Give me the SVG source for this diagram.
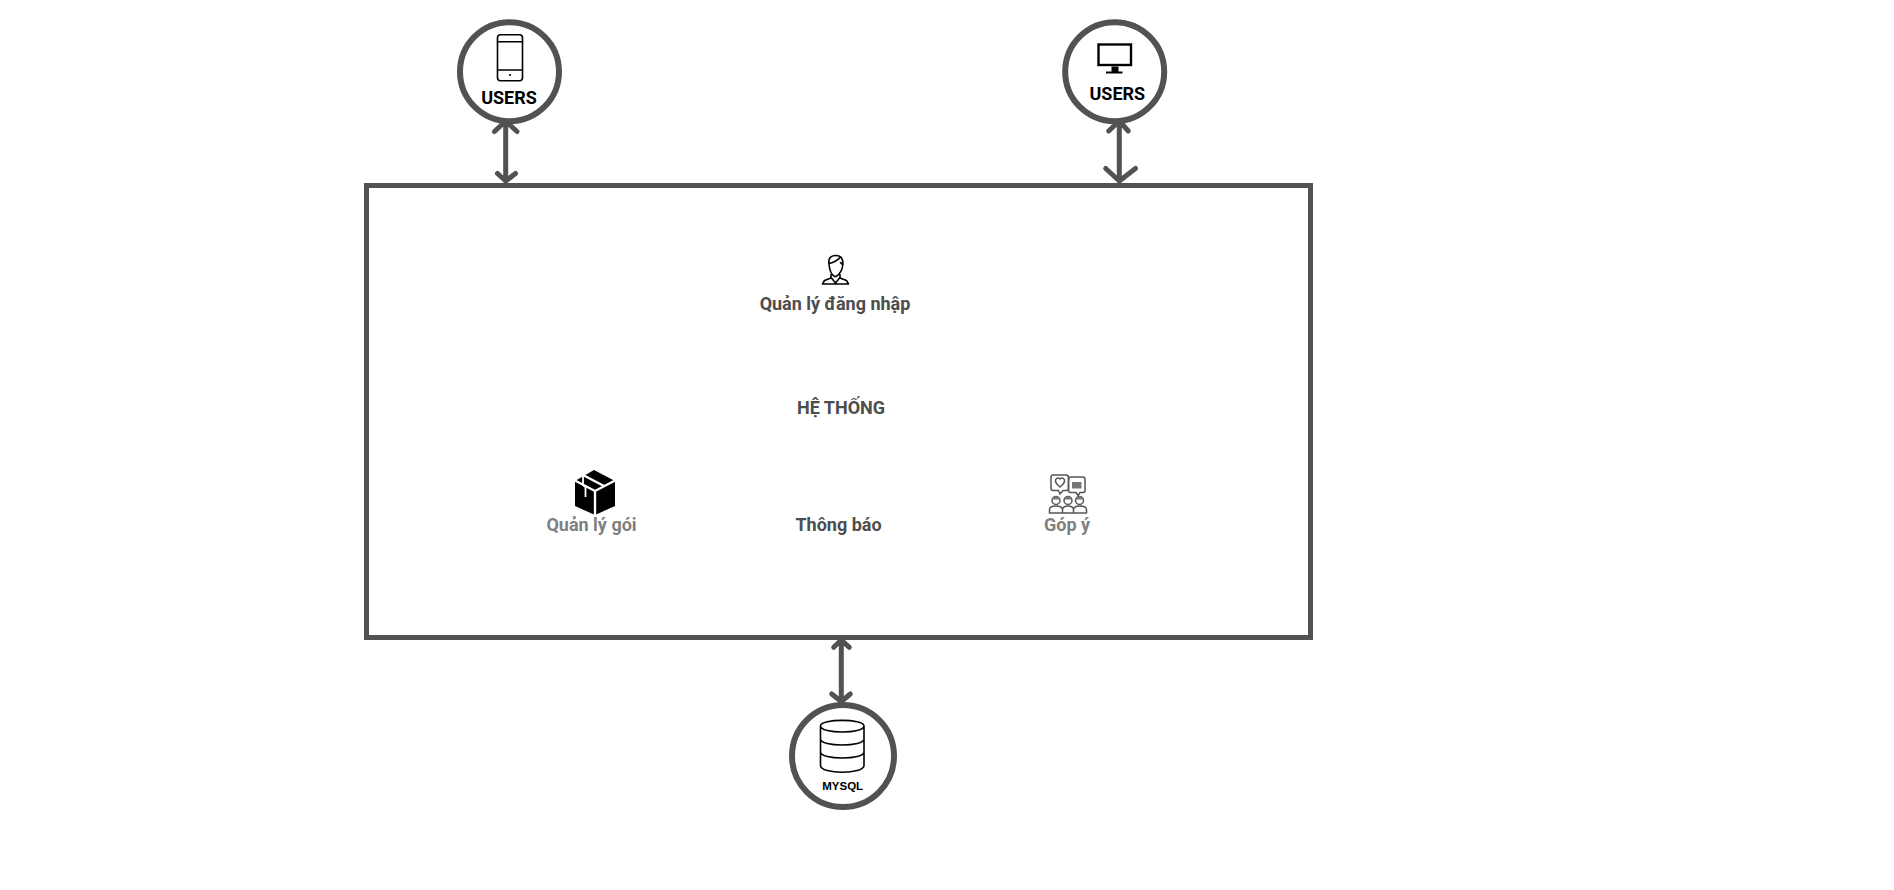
<svg xmlns="http://www.w3.org/2000/svg" width="1894" height="890" viewBox="0 0 1894 890">
<style>
.shape{fill:#fff;stroke:#525252;stroke-width:5}
.ring{fill:#fff;stroke:#525252;stroke-width:6}
.conn{fill:none;stroke:#525252;stroke-width:5;stroke-linecap:round;stroke-linejoin:round}
text{font-family:Roboto,"Liberation Sans",sans-serif;font-weight:700;text-anchor:middle;font-size:18px}
.dark{fill:#4d4d4d}
.grey{fill:#7f7f7f}
.blk{fill:#000}
.ic{fill:none;stroke:#000;stroke-width:1.6;stroke-linejoin:round;stroke-linecap:round}
.icg{fill:none;stroke:#555;stroke-width:1.5;stroke-linejoin:round;stroke-linecap:round}
</style>
<rect width="1894" height="890" fill="#fff"/>
<g id="system">
<rect class="shape" x="366.500" y="185.500" width="944" height="452"/>
<text class="dark" x="841" y="414">HỆ THỐNG</text>
</g>
<g id="connectors">
<path class="conn" d="M505.700 125V181M494.500 131.500L505.700 121L517 131.500M497.500 173.500L505.700 181L515.500 173.500"/>
<path class="conn" d="M1119.300 125V181M1108.700 131L1119.300 121L1128.300 131M1105.700 168.500L1119.300 181L1135.500 168.500"/>
<path class="conn" d="M841.300 642V700M833.700 647.300L841.300 640L849.300 647.300M831.700 694L841.300 701.500L850.300 694"/>
</g>
<g id="users-mobile">
<circle class="ring" cx="509.500" cy="71.700" r="49.500"/>
<rect class="ic" x="497.500" y="34.800" width="25" height="46" rx="3"/>
<path class="ic" d="M497.500 41.700H522.500M497.500 70H522.500"/>
<circle cx="510" cy="75" r="1.100" fill="#000"/>
<text class="blk" x="509" y="103.500">USERS</text>
</g>
<g id="users-desktop">
<circle class="ring" cx="1114.700" cy="71.700" r="49.500"/>
<rect x="1098.500" y="44.500" width="32.500" height="20.500" fill="#fff" stroke="#000" stroke-width="2.400"/>
<path d="M1111.500 66.500H1118.500V71.500H1122.500V73.500H1106V71.500H1111.500Z" fill="#000"/>
<text class="blk" x="1117.300" y="99.500">USERS</text>
</g>
<g id="mysql">
<circle class="ring" cx="843" cy="756" r="51"/>
<path class="ic" d="M820.500 726C820.500 718.500 864 718.500 864 726V765.500C864 774.500 820.500 774.500 820.500 765.500ZM820.500 726C820.500 734 864 734 864 726M820.500 739C820.500 747 864 747 864 739M820.500 752C820.500 760 864 760 864 752"/>
<text class="blk" x="842.700" y="790" style="font-family:'Liberation Sans',Arial,sans-serif;font-size:11.500px">MYSQL</text>
</g>
<g id="login">
<path class="ic" d="M829 264C828 257 832 255.500 836 255.500C841 255.500 843.500 259 842.800 265C842.300 270 840 274 836 276.500H834.500C831 274.500 829.500 270 829 264ZM829 263.500C833 263 838 260 840 257.500M840.500 262.500L842.800 265M831 274.500L831 278L824.500 280.500L822.500 284H848.500L846.500 280.500L840 278L840 274.500M831.500 278L835.500 283L839.500 278"/>
<text class="dark" x="835" y="310">Quản lý đăng nhập</text>
</g>
<g id="package">
<path fill="#000" d="M594 470L575 481V506L595 515L615 506V481Z"/>
<path d="M574 480L595 491L616 480M595 491V516M583 475L604 486" stroke="#fff" stroke-width="2.400" fill="none"/>
<path d="M583 475V485L585.500 487V497" stroke="#fff" stroke-width="1.800" fill="none"/>
<text class="grey" x="591.500" y="531">Quản lý gói</text>
</g>
<g id="notify">
<text class="dark" x="838.500" y="530.500">Thông báo</text>
</g>
<g id="feedback">
<path class="icg" d="M1053 475H1066Q1068.500 475 1068.500 477.500V488.500Q1068.500 490.500 1066 490.500H1063L1060 494L1058.500 490.500H1053Q1051 490.500 1051 488.500V477.500Q1051 475 1053 475Z"/>
<path class="icg" d="M1060 479C1058 477 1055 478.500 1055.500 481.500C1056 484 1059 486 1060 487C1061 486 1064 484 1064.500 481.500C1065 478.500 1062 477 1060 479Z"/>
<path class="icg" fill="#fff" d="M1071 477H1083Q1085 477 1085 479.500V490.500Q1085 492.500 1083 492.500H1080L1078 495.500L1076 492.500H1071Q1068.500 492.500 1068.500 490.500V479.500Q1068.500 477 1071 477Z"/>
<path d="M1072 482H1081.500V488.500H1072Z" fill="#777"/>
<circle class="icg" cx="1056" cy="500.500" r="4"/><circle class="icg" cx="1068" cy="500.500" r="4"/><circle class="icg" cx="1079.500" cy="500.500" r="4"/>
<path d="M1052.500 499.500H1059.500V497.500L1056 496L1052.500 497.500ZM1064.500 499.500H1071.500V497.500L1068 496L1064.500 497.500ZM1076 499.500H1083V497.500L1079.500 496L1076 497.500Z" fill="#777"/>
<path class="icg" d="M1049.500 513V509.500C1049.500 506.500 1053 506 1056 506C1059 506 1062 506.500 1062.500 509.500C1063 506.500 1065 506 1068 506C1071 506 1073 506.500 1073.500 509.500C1074 506.500 1076.500 506 1079.500 506C1083 506 1086.500 506.500 1086.500 509.500V513ZM1062.500 509.500V513M1073.500 509.500V513"/>
<text class="grey" x="1067" y="531">Góp ý</text>
</g>
</svg>
